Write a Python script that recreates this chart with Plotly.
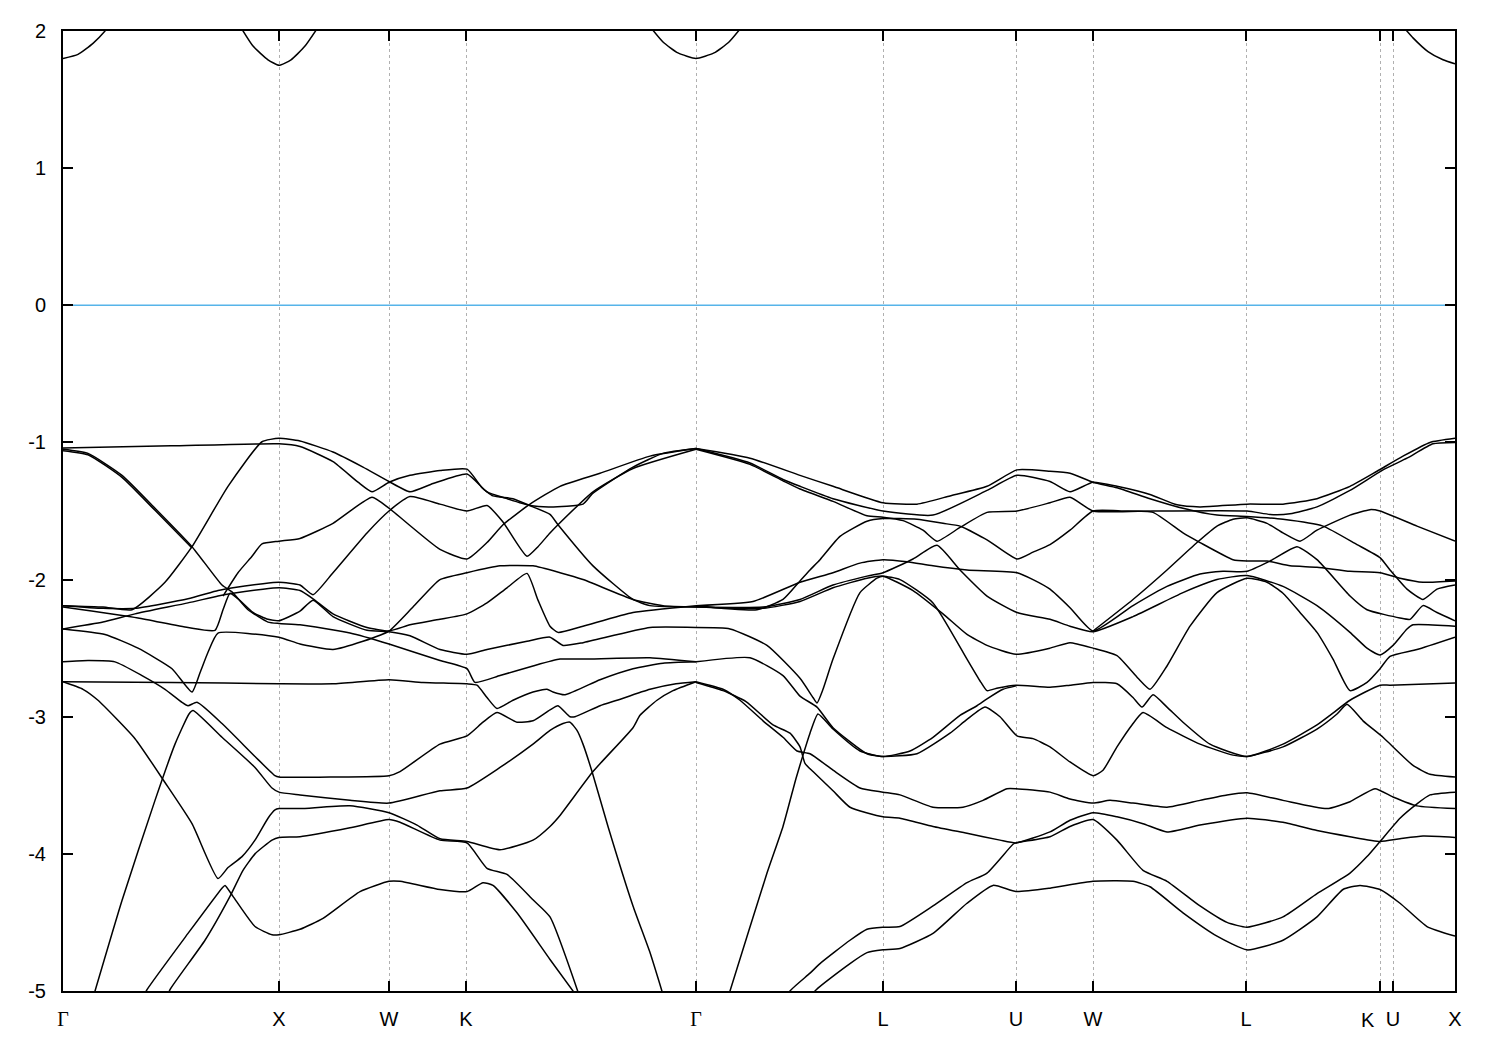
import plotly.graph_objects as go

# high-symmetry points (k-point index along path)
sym_k = [0, 216, 326, 403, 633, 820, 953, 1030, 1183, 1317, 1330, 1392]
sym_labels = ["Γ", "X", "W", "K", "Γ", "L", "U", "W", "L", "K", "U", "X"]
y_ticks = [-5, -4, -3, -2, -1, 0, 1, 2]
fermi_k = [0, 1392]
fermi_E = [0, 0]

# conduction bands (eV)
c1 = [(0,1.80),(15,1.83),(30,1.91),(42,2.0),(50,2.08)]
c2 = [(175,2.06),(190,1.89),(205,1.79),(216,1.75),(228,1.79),(242,1.89),(258,2.06)]
c3 = [(585,2.05),(600,1.92),(615,1.84),(633,1.80),(651,1.84),(666,1.92),(681,2.05)]
c4 = [(1338,2.05),(1350,1.95),(1365,1.85),(1380,1.79),(1392,1.76)]

# valence bands (k index, eV)
vP1 = [(0,-1.04),(108,-1.025),(216,-1.01),(237,-1.03),(270,-1.14),(295,-1.29),(309,-1.36),(326,-1.29),(347,-1.24),(377,-1.205),(404,-1.195),(419,-1.33),(430,-1.39),(450,-1.41),(470,-1.47),(487,-1.525),(495,-1.60),(530,-1.90),(570,-2.145),(587,-2.19),(633,-2.20)]
vA = [(0,-2.19),(40,-2.20),(69,-2.22),(102,-2.02),(129,-1.76),(165,-1.32),(199,-0.995),(216,-0.97),(237,-0.99),(270,-1.07),(300,-1.18),(326,-1.285),(347,-1.36),(370,-1.30),(404,-1.23),(424,-1.36),(444,-1.41),(467,-1.46),(487,-1.47),(520,-1.45),(530,-1.37),(570,-1.18),(600,-1.08),(633,-1.045)]
vD = [(0,-1.05),(25,-1.08),(59,-1.24),(92,-1.48),(129,-1.76),(159,-2.04),(169,-2.09),(185,-2.22),(205,-2.31),(216,-2.32),(237,-2.33),(287,-2.39),(326,-2.47),(377,-2.59),(404,-2.65),(412,-2.75),(437,-2.70),(470,-2.63),(497,-2.58),(520,-2.58),(587,-2.57),(633,-2.60)]
vD2 = [(0,-1.06),(25,-1.09),(59,-1.255),(92,-1.495),(129,-1.77)]
vB = [(0,-2.19),(40,-2.21),(72,-2.21),(125,-2.14),(155,-2.08),(170,-2.06),(200,-2.03),(216,-2.02),(237,-2.04),(250,-2.11),(270,-1.95),(304,-1.66),(326,-1.50),(347,-1.395),(377,-1.45),(404,-1.50),(424,-1.46),(440,-1.58),(464,-1.83),(475,-1.76),(487,-1.66),(495,-1.60),(530,-1.36),(570,-1.19),(633,-1.05)]
vF = [(0,-2.36),(40,-2.31),(72,-2.25),(125,-2.17),(155,-2.12),(170,-2.10),(200,-2.07),(216,-2.06),(237,-2.08),(250,-2.14),(270,-2.25),(304,-2.35),(326,-2.375),(347,-2.33),(377,-2.29),(404,-2.25),(424,-2.17),(444,-2.06),(464,-1.955),(475,-2.15),(487,-2.34),(495,-2.385),(520,-2.34),(570,-2.24),(633,-2.19)]
vE = [(0,-2.20),(75,-2.28),(125,-2.35),(152,-2.37),(160,-2.22),(167,-2.10),(175,-2.14),(190,-2.24),(205,-2.29),(216,-2.30),(237,-2.23),(250,-2.15),(270,-2.27),(304,-2.37),(326,-2.38),(347,-2.41),(377,-2.51),(404,-2.545),(424,-2.51),(464,-2.45),(487,-2.42),(500,-2.48),(520,-2.46),(587,-2.35),(633,-2.35)]
vG = [(0,-2.36),(42,-2.40),(75,-2.50),(109,-2.65),(129,-2.82),(137,-2.68),(145,-2.53),(155,-2.39),(216,-2.42),(237,-2.47),(270,-2.51),(300,-2.45),(326,-2.375),(350,-2.2),(377,-2.0),(404,-1.95),(437,-1.90),(470,-1.90),(497,-1.95),(520,-2.0),(570,-2.145),(600,-2.19),(633,-2.20)]
vH = [(0,-2.745),(108,-2.75),(216,-2.76),(270,-2.76),(326,-2.73),(360,-2.75),(404,-2.76),(414,-2.77),(424,-2.86),(434,-2.94),(450,-2.88),(470,-2.82),(484,-2.80),(490,-2.82),(502,-2.84),(537,-2.73),(570,-2.65),(600,-2.61),(633,-2.60)]
vL = [(0,-2.60),(25,-2.59),(52,-2.60),(79,-2.70),(102,-2.80),(119,-2.895),(125,-2.92),(134,-2.895),(159,-3.05),(192,-3.29),(212,-3.43),(216,-3.44),(268,-3.44),(326,-3.43),(337,-3.40),(377,-3.20),(404,-3.14),(420,-3.04),(434,-2.97),(454,-3.04),(470,-3.03),(487,-2.95),(495,-2.92),(507,-3.0),(512,-3.0),(537,-2.92),(554,-2.88),(587,-2.80),(613,-2.76),(633,-2.745)]
vM = [(30,-5.05),(59,-4.34),(92,-3.61),(112,-3.20),(126,-2.98),(130,-2.955),(159,-3.15),(192,-3.37),(209,-3.52),(216,-3.55),(237,-3.57),(287,-3.61),(326,-3.63),(377,-3.54),(404,-3.52),(437,-3.37),(470,-3.20),(487,-3.10),(500,-3.05),(507,-3.04),(514,-3.10),(520,-3.20),(529,-3.40),(545,-3.80),(570,-4.38),(587,-4.72),(601,-5.05)]
vI = [(0,-2.745),(20,-2.80),(35,-2.88),(72,-3.16),(102,-3.48),(129,-3.78),(155,-4.18),(165,-4.10),(179,-4.02),(192,-3.90),(205,-3.74),(212,-3.68),(216,-3.67),(237,-3.67),(287,-3.65),(326,-3.70),(354,-3.79),(377,-3.89),(404,-3.91),(437,-3.97),(470,-3.90),(487,-3.80),(497,-3.72),(530,-3.40),(570,-3.08),(577,-2.99),(594,-2.88),(610,-2.81),(633,-2.745)]
vJ = [(80,-5.05),(84,-4.99),(125,-4.58),(159,-4.25),(162,-4.23),(170,-4.31),(192,-4.53),(209,-4.59),(216,-4.59),(237,-4.55),(260,-4.47),(297,-4.275),(326,-4.20),(337,-4.20),(377,-4.26),(404,-4.275),(420,-4.21),(430,-4.23),(454,-4.43),(487,-4.77),(515,-5.05)]
vK = [(104,-5.05),(107,-4.99),(142,-4.63),(167,-4.31),(180,-4.12),(192,-4.00),(209,-3.90),(216,-3.88),(237,-3.875),(287,-3.81),(326,-3.75),(337,-3.77),(377,-3.90),(404,-3.92),(424,-4.105),(444,-4.15),(470,-4.335),(487,-4.46),(517,-5.05)]
vQ = [(160,-2.12),(175,-1.95),(189,-1.83),(199,-1.74),(216,-1.72),(237,-1.70),(270,-1.59),(309,-1.40),(326,-1.48),(377,-1.78),(404,-1.85),(424,-1.73),(440,-1.60),(467,-1.45),(497,-1.32),(537,-1.225),(587,-1.10),(633,-1.045)]

vTa = [(633,-1.045),(687,-1.115),(737,-1.24),(770,-1.32),(820,-1.44),(854,-1.45),(887,-1.39),(924,-1.32),(954,-1.20),(987,-1.21),(1007,-1.225),(1030,-1.29),(1054,-1.33),(1087,-1.41),(1120,-1.48),(1154,-1.53),(1184,-1.54),(1220,-1.56),(1260,-1.61),(1294,-1.745),(1317,-1.84),(1327,-1.93),(1344,-2.07),(1360,-2.145),(1374,-2.07),(1392,-2.04)]
vTb = [(633,-1.045),(687,-1.15),(720,-1.27),(737,-1.32),(770,-1.41),(820,-1.50),(870,-1.53),(924,-1.35),(954,-1.24),(987,-1.285),(1007,-1.36),(1030,-1.29),(1054,-1.32),(1087,-1.38),(1114,-1.455),(1137,-1.47),(1184,-1.45),(1220,-1.45),(1254,-1.41),(1287,-1.32),(1314,-1.21),(1340,-1.10),(1367,-1.00),(1392,-0.97)]
vTc = [(633,-1.05),(687,-1.16),(720,-1.28),(737,-1.34),(770,-1.43),(804,-1.535),(820,-1.545),(840,-1.57),(860,-1.64),(874,-1.72),(897,-1.62),(924,-1.51),(954,-1.50),(987,-1.44),(1007,-1.40),(1030,-1.50),(1090,-1.50),(1184,-1.50),(1207,-1.525),(1227,-1.52),(1254,-1.47),(1287,-1.35),(1320,-1.20),(1344,-1.115),(1370,-1.01),(1392,-1.00)]
vTd = [(633,-2.19),(694,-2.22),(720,-2.145),(737,-2.01),(747,-1.93),(757,-1.855),(777,-1.685),(804,-1.575),(820,-1.555),(854,-1.56),(880,-1.59),(897,-1.61),(924,-1.71),(954,-1.85),(970,-1.80),(987,-1.745),(1007,-1.64),(1030,-1.50),(1060,-1.50),(1090,-1.51),(1120,-1.66),(1137,-1.73),(1170,-1.855),(1184,-1.865),(1204,-1.865),(1227,-1.90),(1254,-1.91),(1287,-1.94),(1317,-1.95),(1337,-1.99),(1360,-2.02),(1392,-2.01)]
vTe = [(633,-2.19),(690,-2.16),(737,-2.02),(770,-1.95),(797,-1.88),(820,-1.855),(844,-1.87),(870,-1.90),(904,-1.93),(954,-1.95),(970,-2.0),(987,-2.07),(1007,-2.205),(1030,-2.375),(1070,-2.19),(1104,-2.05),(1137,-1.96),(1160,-1.94),(1184,-1.94),(1207,-1.865),(1234,-1.76),(1254,-1.855),(1287,-2.12),(1304,-2.22),(1337,-2.28),(1347,-2.29),(1360,-2.19),(1374,-2.24),(1392,-2.30)]
vTf = [(633,-2.20),(700,-2.20),(737,-2.145),(770,-2.04),(804,-1.975),(820,-1.95),(850,-1.85),(874,-1.75),(897,-1.93),(924,-2.12),(954,-2.24),(987,-2.29),(1007,-2.34),(1030,-2.38),(1070,-2.27),(1120,-2.095),(1154,-2.0),(1184,-1.97),(1220,-2.05),(1254,-2.19),(1287,-2.385),(1304,-2.50),(1317,-2.55),(1330,-2.48),(1344,-2.36),(1350,-2.33),(1392,-2.34)]
v7a = [(633,-2.20),(700,-2.21),(737,-2.16),(770,-2.06),(804,-1.99),(820,-1.975),(850,-2.08),(880,-2.25),(904,-2.40),(924,-2.48),(953,-2.545),(987,-2.50),(1007,-2.46),(1030,-2.50),(1054,-2.555),(1075,-2.72),(1087,-2.80),(1104,-2.63),(1127,-2.34),(1154,-2.095),(1184,-1.99),(1204,-2.02),(1220,-2.10),(1237,-2.24),(1254,-2.385),(1270,-2.58),(1287,-2.81),(1304,-2.75),(1317,-2.65),(1327,-2.56),(1354,-2.51),(1392,-2.42)]
vY1 = [(633,-2.35),(667,-2.36),(704,-2.48),(737,-2.72),(750,-2.86),(754,-2.90),(760,-2.80),(770,-2.58),(797,-2.095),(814,-1.99),(820,-1.975),(837,-2.0),(870,-2.17),(904,-2.58),(918,-2.75),(924,-2.81),(935,-2.79),(953,-2.77),(987,-2.785),(1007,-2.77),(1030,-2.75),(1054,-2.76),(1070,-2.86),(1079,-2.93),(1090,-2.84),(1104,-2.93),(1120,-3.04),(1147,-3.20),(1184,-3.29),(1220,-3.20),(1254,-3.06),(1267,-2.99),(1287,-2.88),(1317,-2.77),(1327,-2.77),(1392,-2.755)]
vY2 = [(633,-2.60),(687,-2.57),(720,-2.70),(737,-2.85),(754,-2.93),(770,-3.08),(804,-3.27),(820,-3.29),(854,-3.27),(887,-3.12),(904,-3.02),(922,-2.93),(937,-3.00),(954,-3.14),(970,-3.16),(987,-3.22),(1007,-3.33),(1030,-3.43),(1040,-3.39),(1054,-3.22),(1069,-3.06),(1080,-2.97),(1104,-3.08),(1137,-3.20),(1170,-3.28),(1184,-3.29),(1220,-3.22),(1254,-3.09),(1274,-2.98),(1284,-2.91),(1300,-3.03),(1320,-3.15),(1350,-3.355),(1367,-3.42),(1392,-3.44)]
vY3 = [(665,-5.05),(667,-5.0),(704,-4.14),(720,-3.80),(733,-3.45),(740,-3.28),(747,-3.12),(755,-2.98),(770,-3.09),(797,-3.25),(820,-3.29),(847,-3.25),(870,-3.15),(897,-2.99),(914,-2.92),(924,-2.87),(940,-2.80),(953,-2.775)]
vY4 = [(633,-2.745),(660,-2.80),(677,-2.88),(700,-3.03),(720,-3.15),(734,-3.25),(747,-3.27),(770,-3.39),(797,-3.52),(820,-3.55),(837,-3.57),(870,-3.66),(900,-3.66),(920,-3.61),(944,-3.525),(953,-3.525),(987,-3.55),(1007,-3.60),(1030,-3.63),(1047,-3.61),(1070,-3.63),(1104,-3.66),(1137,-3.61),(1164,-3.57),(1184,-3.555),(1220,-3.61),(1264,-3.67),(1287,-3.62),(1312,-3.525),(1330,-3.585),(1354,-3.65),(1392,-3.67)]
vY5 = [(633,-2.75),(660,-2.81),(683,-2.89),(710,-3.06),(727,-3.12),(737,-3.22),(742,-3.34),(750,-3.40),(770,-3.54),(787,-3.66),(820,-3.73),(837,-3.74),(870,-3.80),(904,-3.85),(937,-3.90),(953,-3.92),(987,-3.84),(1007,-3.755),(1030,-3.70),(1054,-3.73),(1080,-3.78),(1104,-3.84),(1137,-3.79),(1184,-3.74),(1220,-3.77),(1254,-3.83),(1287,-3.875),(1317,-3.91),(1337,-3.89),(1360,-3.87),(1392,-3.88)]
vBt1 = [(725,-5.05),(727,-5.0),(747,-4.87),(757,-4.80),(787,-4.63),(804,-4.55),(820,-4.535),(837,-4.53),(870,-4.38),(904,-4.21),(924,-4.14),(950,-3.93),(953,-3.92),(987,-3.875),(1007,-3.80),(1030,-3.75),(1054,-3.90),(1080,-4.12),(1104,-4.20),(1137,-4.38),(1164,-4.50),(1184,-4.535),(1220,-4.46),(1254,-4.29),(1287,-4.14),(1304,-4.02),(1317,-3.91),(1337,-3.74),(1354,-3.635),(1367,-3.57),(1392,-3.55)]
vBt2 = [(750,-5.05),(752,-5.0),(787,-4.80),(804,-4.72),(820,-4.70),(837,-4.69),(870,-4.58),(904,-4.36),(930,-4.23),(953,-4.275),(987,-4.25),(1030,-4.20),(1070,-4.20),(1087,-4.24),(1120,-4.43),(1154,-4.60),(1184,-4.70),(1220,-4.63),(1254,-4.46),(1280,-4.26),(1297,-4.23),(1317,-4.26),(1337,-4.36),(1364,-4.53),(1392,-4.60)]
vWa = [(1030,-2.375),(1070,-2.145),(1104,-1.93),(1134,-1.73),(1154,-1.61),(1170,-1.56),(1184,-1.55),(1204,-1.59),(1220,-1.66),(1237,-1.72),(1254,-1.64),(1287,-1.53),(1307,-1.49),(1317,-1.50),(1354,-1.61),(1392,-1.72)]

conduction = [c1, c2, c3, c4]
valence = [vP1, vA, vD, vD2, vB, vF, vE, vG, vH, vL, vM, vI, vJ, vK, vQ,
           vTa, vTb, vTc, vTd, vTe, vTf, v7a, vY1, vY2, vY3, vY4, vY5,
           vBt1, vBt2, vWa]

fig = go.Figure()
fig.add_trace(go.Scatter(x=fermi_k, y=fermi_E, mode="lines",
                         line=dict(color="#56b4e9", width=1.5), hoverinfo="skip"))
for band in conduction + valence:
    ks = [p[0] for p in band]
    es = [p[1] for p in band]
    fig.add_trace(go.Scatter(x=ks, y=es, mode="lines",
                             line=dict(color="black", width=1.5, shape="spline", smoothing=0.5),
                             hoverinfo="skip"))

ticktext = [("<span style='font-family:Liberation Serif'>%s</span>" % s) if s == "Γ" else s
            for s in sym_labels]
# the second K sits just left of the adjacent U: draw it as a right-anchored label
k2_label = ticktext[9]
ticktext[9] = ""

fig.update_layout(
    width=1484, height=1034,
    margin=dict(l=55, r=37, t=20, b=50),
    plot_bgcolor="white", paper_bgcolor="white",
    showlegend=False,
    font=dict(family="Liberation Sans, Arial, sans-serif", size=20, color="black"),
)
fig.add_annotation(x=sym_k[9], xref="x", y=0, yref="paper", text=k2_label,
                   showarrow=False, xanchor="right", yanchor="top",
                   xshift=-4, yshift=-17, borderpad=0,
                   font=dict(family="Liberation Sans, Arial, sans-serif", size=20, color="black"))
fig.update_xaxes(
    range=[0, 1392], tickmode="array", tickvals=sym_k, ticktext=ticktext,
    tickangle=0, ticklabelstandoff=9,
    ticks="inside", ticklen=10, tickwidth=1.5, tickcolor="black",
    showgrid=True, gridcolor="#b0b0b0", gridwidth=1, griddash="3px,3px",
    showline=True, linecolor="black", linewidth=2, mirror="ticks", zeroline=False,
)
fig.update_yaxes(
    range=[-5, 2], tickmode="array", tickvals=y_ticks,
    ticktext=[str(v) for v in y_ticks], ticklabelstandoff=11,
    ticks="inside", ticklen=10, tickwidth=1.5, tickcolor="black",
    showgrid=False, showline=True, linecolor="black", linewidth=2, mirror="ticks",
    zeroline=False,
)
fig.write_html("out.html")
